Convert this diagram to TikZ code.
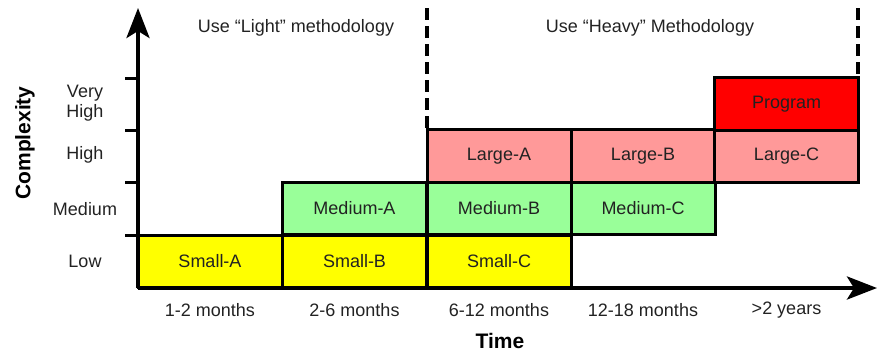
\documentclass[tikz,border=0pt]{standalone}
\usepackage{fontspec}
\setmainfont{Liberation Sans}
\usetikzlibrary{arrows.meta}
\definecolor{smallc}{HTML}{FFFF00}
\definecolor{medc}{HTML}{99FF99}
\definecolor{largec}{HTML}{FF9999}
\definecolor{progc}{HTML}{FF0000}
\definecolor{txt}{HTML}{222222}
\begin{document}
\begin{tikzpicture}[x=1pt,y=-1pt,
  box/.style={draw=black, line width=3pt, minimum width=144pt, minimum height=52.5pt, inner sep=0pt, text=txt, font=\fontsize{18}{20}\selectfont},
  lbl/.style={text=txt, inner sep=0pt, font=\fontsize{18}{20}\selectfont, align=center},
  ttl/.style={text=black, inner sep=0pt, font=\bfseries\fontsize{21}{24}\selectfont},
  axis/.style={line width=4pt, -{Stealth[length=30pt,width=23pt,inset=7pt]}},
  tick/.style={line width=3pt},
  divider/.style={line width=3.5pt, dash pattern=on 12pt off 6pt}]
\useasboundingbox (0,0) rectangle (877,354);
% boxes
\node[box, fill=smallc] (sa) at (210,261.5) {Small-A};
\node[box, fill=smallc] (sb) at (354.5,261.5) {Small-B};
\node[box, fill=smallc] (sc) at (499,261.5) {Small-C};
\node[box, fill=medc] (ma) at (354.5,208.5) {Medium-A};
\node[box, fill=medc] (mb) at (499,208.5) {Medium-B};
\node[box, fill=medc] (mc) at (643,208.5) {Medium-C};
\node[box, fill=largec] (la) at (499,156) {Large-A};
\node[box, fill=largec] (lb) at (643,156) {Large-B};
\node[box, fill=largec] (lc) at (786.5,156) {Large-C};
\node[box, fill=progc] (pg) at (786.5,104) {Program};
% axes
\coordinate (o) at (138,288);
\coordinate (ytop) at (138,8);
\coordinate (xend) at (877,288);
\draw[axis] (o) -- (ytop);
\draw[axis] (o) -- (xend);
% ticks
\foreach \y/\n in {78/t1,130/t2,182/t3,235/t4}{
  \coordinate (\n a) at (125,\y);
  \coordinate (\n b) at (138,\y);
  \draw[tick] (\n a) -- (\n b);
}
% dividers
\coordinate (d1a) at (427,8);
\coordinate (d1b) at (427,128);
\coordinate (d2a) at (858,8);
\coordinate (d2b) at (858,74);
\draw[divider] (d1a) -- (d1b);
\draw[divider] (d2a) -- (d2b);
% top labels
\node[lbl] (light) at (296,28) {Use “Light” methodology};
\node[lbl] (heavy) at (650,28) {Use “Heavy” Methodology};
% y labels
\node[lbl] (vh) at (85,103) {Very\\High};
\node[lbl] (hi) at (85,155) {High};
\node[lbl] (me) at (85,209) {Medium};
\node[lbl] (lo) at (85,261) {Low};
% x labels
\node[lbl] (x1) at (210,310) {1-2 months};
\node[lbl] (x2) at (354.5,310) {2-6 months};
\node[lbl] (x3) at (499,310) {6-12 months};
\node[lbl] (x4) at (643,310) {12-18 months};
\node[lbl] (x5) at (786.5,310) {>2 years};
% axis titles
\node[ttl, rotate=90] (cx) at (25,143) {Complexity};
\node[ttl] (tm) at (500,341) {Time};
\end{tikzpicture}
\end{document}
